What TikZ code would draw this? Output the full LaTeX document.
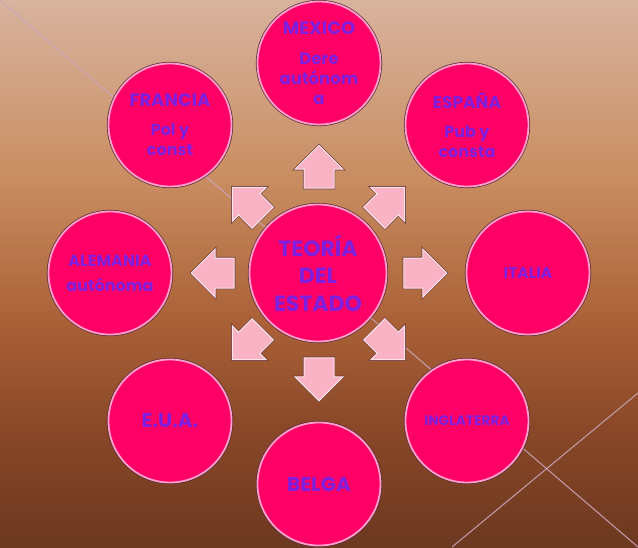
\documentclass[tikz,border=0pt]{standalone}
\usepackage{fontspec}
\setmainfont{Poppins}
\usetikzlibrary{shapes.arrows}
\definecolor{hotpink}{HTML}{FF0066}
\definecolor{ringpink}{HTML}{FFA0CC}
\definecolor{rimdark}{HTML}{5E2A34}
\definecolor{txtpurple}{HTML}{7F1FDD}
\definecolor{arrowpink}{HTML}{F9B3C4}
\definecolor{arrowhi}{HTML}{FDE3EA}
\definecolor{arrowdark}{HTML}{6E3C3C}
\definecolor{bgA}{HTML}{6C3820}
\definecolor{bgB}{HTML}{8A4828}
\definecolor{bgC}{HTML}{AC6238}
\definecolor{bgD}{HTML}{C98E62}
\definecolor{bgE}{HTML}{D8B39E}
\definecolor{lineclr}{HTML}{CBA6BC}
\pgfdeclareverticalshading{bgshade}{100bp}{color(0bp)=(bgA); color(25bp)=(bgA); color(36bp)=(bgB); color(46bp)=(bgC); color(59bp)=(bgD); color(75bp)=(bgE); color(100bp)=(bgE)}
\newcommand{\ttl}[2]{{\fontsize{#1}{20}\selectfont #2}}
\begin{document}
\begin{tikzpicture}[x=1pt,y=-1pt,
  country/.style={circle, minimum size=123pt, inner sep=0pt, fill=hotpink,
    draw=ringpink, line width=1.8pt, preaction={draw=rimdark, line width=3.2pt},
    text=txtpurple, align=center},
  hub/.style={country, minimum size=137pt},
  blockarrow/.style={single arrow, minimum height=43pt, inner xsep=0pt, inner ysep=14.5pt,
    single arrow head extend=9pt, fill=arrowpink, draw=arrowhi, anchor=tip,
    line width=1pt, preaction={draw=arrowdark, line width=2.2pt}}]
\shade[shading=bgshade] (0,0) rectangle (638,547);
\useasboundingbox (0,0) rectangle (638,547);
\coordinate (tl) at (0,0);
\coordinate (br) at (638,547);
\coordinate (bm) at (452,547);
\coordinate (rm) at (638,393);
\draw[lineclr, line width=1.1pt, opacity=0.85] (tl) -- (br);
\draw[lineclr, line width=1.1pt, opacity=0.85] (bm) -- (rm);

\node[hub, font={\bfseries\fontsize{22}{27.5}\selectfont}] (teo) at (318,273) {TEORÍA\\DEL\\ESTADO};

\node[country, font={\bfseries\fontsize{16.5}{20}\selectfont}] (mex) at (319,63) {\ttl{18}{MEXICO}\\[10pt]Dere\\autónom\\a};
\node[country, font={\bfseries\fontsize{16}{20}\selectfont}] (fra) at (170,125) {\ttl{18}{FRANCIA}\\[9pt]Pol y\\const};
\node[country, font={\bfseries\fontsize{16}{20}\selectfont}] (esp) at (467,125) {\ttl{17}{ESPAÑA}\\[9pt]Pub y\\consta};
\node[country, font={\bfseries\fontsize{16}{25}\selectfont}] (ale) at (110,273) {ALEMANIA\\autónoma};
\node[country, font={\bfseries\fontsize{15.5}{18}\selectfont}] (ita) at (528,273) {ITALIA};
\node[country, font={\bfseries\fontsize{20}{20}\selectfont}] (eua) at (170,421) {E.U.A.};
\node[country, font={\bfseries\fontsize{20}{20}\selectfont}] (bel) at (319,484) {BELGA};
\node[country, font={\bfseries\fontsize{13.8}{16}\selectfont}] (ing) at (467,421) {INGLATERRA};

\node[blockarrow, rotate=90]  (aN)  at (319,144.5) {};
\node[blockarrow, rotate=135] (aNW) at (231.8,186.8) {};
\node[blockarrow, rotate=45]  (aNE) at (405.2,186.8) {};
\node[blockarrow, rotate=180] (aW)  at (190.5,273) {};
\node[blockarrow, rotate=0]   (aE)  at (447.5,273) {};
\node[blockarrow, rotate=225] (aSW) at (231.8,360.2) {};
\node[blockarrow, rotate=315] (aSE) at (405.2,360.2) {};
\node[blockarrow, rotate=270] (aS)  at (319,401.5) {};
\end{tikzpicture}
\end{document}
